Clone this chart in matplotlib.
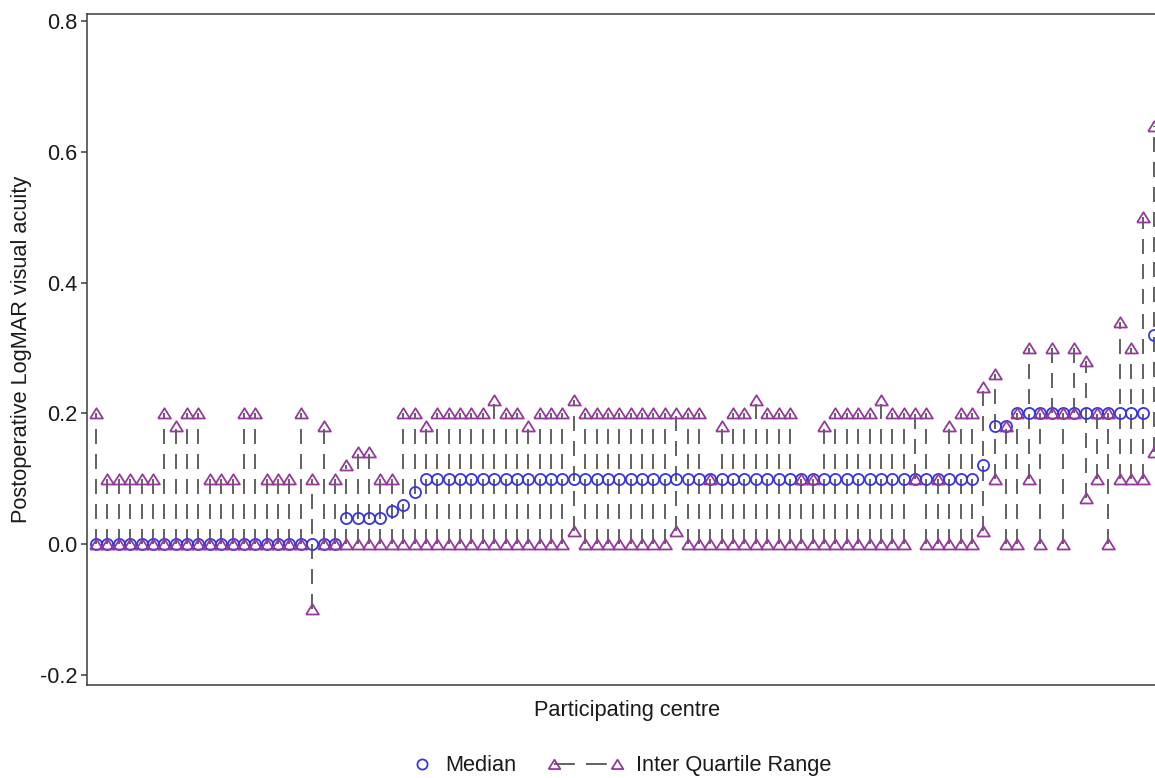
import numpy as np
import matplotlib
matplotlib.use("Agg")
import matplotlib.pyplot as plt
from matplotlib.lines import Line2D
from matplotlib.legend_handler import HandlerLine2D

# Postoperative LogMAR visual acuity per participating centre (sorted by median)
median = [0.00, 0.00, 0.00, 0.00, 0.00, 0.00, 0.00, 0.00, 0.00, 0.00,
          0.00, 0.00, 0.00, 0.00, 0.00, 0.00, 0.00, 0.00, 0.00, 0.00,
          0.00, 0.00, 0.04, 0.04, 0.04, 0.04, 0.05, 0.06, 0.08, 0.10,
          0.10, 0.10, 0.10, 0.10, 0.10, 0.10, 0.10, 0.10, 0.10, 0.10,
          0.10, 0.10, 0.10, 0.10, 0.10, 0.10, 0.10, 0.10, 0.10, 0.10,
          0.10, 0.10, 0.10, 0.10, 0.10, 0.10, 0.10, 0.10, 0.10, 0.10,
          0.10, 0.10, 0.10, 0.10, 0.10, 0.10, 0.10, 0.10, 0.10, 0.10,
          0.10, 0.10, 0.10, 0.10, 0.10, 0.10, 0.10, 0.10, 0.12, 0.18,
          0.18, 0.20, 0.20, 0.20, 0.20, 0.20, 0.20, 0.20, 0.20, 0.20,
          0.20, 0.20, 0.20, 0.32]

lower_quartile = [0.00, 0.00, 0.00, 0.00, 0.00, 0.00, 0.00, 0.00, 0.00, 0.00,
                  0.00, 0.00, 0.00, 0.00, 0.00, 0.00, 0.00, 0.00, 0.00, -0.10,
                  0.00, 0.00, 0.00, 0.00, 0.00, 0.00, 0.00, 0.00, 0.00, 0.00,
                  0.00, 0.00, 0.00, 0.00, 0.00, 0.00, 0.00, 0.00, 0.00, 0.00,
                  0.00, 0.00, 0.02, 0.00, 0.00, 0.00, 0.00, 0.00, 0.00, 0.00,
                  0.00, 0.02, 0.00, 0.00, 0.00, 0.00, 0.00, 0.00, 0.00, 0.00,
                  0.00, 0.00, 0.00, 0.00, 0.00, 0.00, 0.00, 0.00, 0.00, 0.00,
                  0.00, 0.00, 0.10, 0.00, 0.00, 0.00, 0.00, 0.00, 0.02, 0.10,
                  0.00, 0.00, 0.10, 0.00, 0.20, 0.00, 0.20, 0.07, 0.10, 0.00,
                  0.10, 0.10, 0.10, 0.14]

upper_quartile = [0.20, 0.10, 0.10, 0.10, 0.10, 0.10, 0.20, 0.18, 0.20, 0.20,
                  0.10, 0.10, 0.10, 0.20, 0.20, 0.10, 0.10, 0.10, 0.20, 0.10,
                  0.18, 0.10, 0.12, 0.14, 0.14, 0.10, 0.10, 0.20, 0.20, 0.18,
                  0.20, 0.20, 0.20, 0.20, 0.20, 0.22, 0.20, 0.20, 0.18, 0.20,
                  0.20, 0.20, 0.22, 0.20, 0.20, 0.20, 0.20, 0.20, 0.20, 0.20,
                  0.20, 0.20, 0.20, 0.20, 0.10, 0.18, 0.20, 0.20, 0.22, 0.20,
                  0.20, 0.20, 0.10, 0.10, 0.18, 0.20, 0.20, 0.20, 0.20, 0.22,
                  0.20, 0.20, 0.20, 0.20, 0.10, 0.18, 0.20, 0.20, 0.24, 0.26,
                  0.18, 0.20, 0.30, 0.20, 0.30, 0.20, 0.30, 0.28, 0.20, 0.20,
                  0.34, 0.30, 0.50, 0.64]

y_ticks = [-0.2, 0.0, 0.2, 0.4, 0.6, 0.8]
y_tick_labels = ["-0.2", "0.0", "0.2", "0.4", "0.6", "0.8"]

plt.rcParams['font.family'] = ['Liberation Sans', 'DejaVu Sans']
plt.rcParams['axes.unicode_minus'] = False
plt.rcParams['lines.scale_dashes'] = False

FS = 15.7
LINE_C = '#555555'
TRI_C = '#943a9b'
CIRC_C = '#3535e2'
AX_C = '#3a3a3a'
MEW = 1.3

# open triangle, a little flatter than it is wide
TRIANGLE = [(-1.0, -0.78), (1.0, -0.78), (0.0, 0.82), (-1.0, -0.78)]
TRI_MS = 9.2
CIRC_MS = 8.0

fig = plt.figure(figsize=(11.55, 7.78), dpi=100)
ax = fig.add_axes([0.0756, 0.1195, 0.9348, 0.8625])

centre = np.arange(len(median))

# IQR spikes
ax.vlines(centre, lower_quartile, upper_quartile, colors=LINE_C,
          linewidth=1.3, linestyles=[(0, (10.8, 7.2))], zorder=1)
# medians
ax.plot(centre, median, linestyle='none', marker='o', ms=CIRC_MS,
        mfc='none', mec=CIRC_C, mew=MEW, zorder=2)
# quartile ends
for q in (lower_quartile, upper_quartile):
    ax.plot(centre, q, linestyle='none', marker=TRIANGLE, ms=TRI_MS,
            mfc='none', mec=TRI_C, mew=MEW, zorder=3)

ax.set_xlim(-0.765, 94.15)
ax.set_ylim(-0.216, 0.811)
ax.set_yticks(y_ticks)
ax.set_yticklabels(y_tick_labels, fontsize=FS)
ax.tick_params(axis='x', bottom=False, labelbottom=False)
ax.tick_params(axis='y', length=4.3, width=1.1, color=AX_C, pad=2.9,
               labelcolor='#1a1a1a')
for side in ('left', 'bottom', 'top', 'right'):
    ax.spines[side].set_color(AX_C)
    ax.spines[side].set_linewidth(1.1)

ax.set_xlabel("Participating centre", fontsize=FS, labelpad=11, color='#1a1a1a')
ax.set_ylabel("Postoperative LogMAR visual acuity", fontsize=FS, labelpad=5.5,
              color='#1a1a1a')


class RightEndMarker(HandlerLine2D):
    """Single legend marker placed near the right end of the handle box."""
    def create_artists(self, legend, orig_handle, xdescent, ydescent,
                       width, height, fontsize, trans):
        arts = super().create_artists(legend, orig_handle, xdescent, ydescent,
                                      width, height, fontsize, trans)
        shift = width / 2 - 0.48 * fontsize
        for a in arts:
            a.set_xdata(np.asarray(a.get_xdata(), float) + shift)
        return arts


h_med = Line2D([], [], linestyle='none', marker='o', ms=7.3,
               mfc='none', mec=CIRC_C, mew=MEW)
h_iqr = Line2D([], [], color=LINE_C, linewidth=1.3, dashes=(15, 8),
               marker=TRIANGLE, ms=8.4, mfc='none', mec=TRI_C, mew=MEW)

fig.legend([h_med, h_iqr], ["Median", "Inter Quartile Range"],
           handler_map={h_med: RightEndMarker(numpoints=1),
                        h_iqr: HandlerLine2D(numpoints=2)},
           loc='center', bbox_to_anchor=(0.5145, 0.0158), ncol=2,
           frameon=False, fontsize=FS, handlelength=3.49,
           handletextpad=0.57, columnspacing=1.45, borderpad=0,
           labelcolor='#1a1a1a')

fig.savefig("out.png", dpi=100)
